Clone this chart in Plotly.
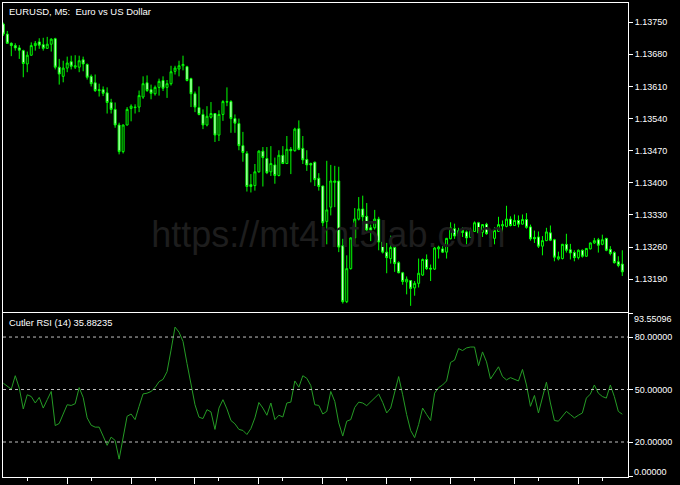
import plotly.graph_objects as go

# ---------------- data ----------------
bars = list(range(156))

opens = [1.13746,1.13724,1.13704,1.13699,1.13694,1.13688,1.13659,1.13678,1.13699,1.13707,
         1.13701,1.13693,1.13702,1.13714,1.13652,1.13632,1.13650,1.13664,1.13652,1.13652,
         1.13668,1.13658,1.13632,1.13618,1.13603,1.13603,1.13596,1.13575,1.13560,1.13526,
         1.13468,1.13526,1.13562,1.13565,1.13565,1.13587,1.13618,1.13603,1.13594,1.13608,
         1.13623,1.13608,1.13616,1.13643,1.13648,1.13655,1.13653,1.13627,1.13594,1.13564,
         1.13549,1.13526,1.13543,1.13551,1.13504,1.13549,1.13577,1.13577,1.13540,1.13529,
         1.13481,1.13464,1.13396,1.13394,1.13424,1.13469,1.13453,1.13424,1.13439,1.13416,
         1.13460,1.13442,1.13473,1.13470,1.13518,1.13475,1.13451,1.13442,1.13445,1.13410,
         1.13393,1.13316,1.13347,1.13401,1.13404,1.13263,1.13141,1.13213,1.13280,1.13321,
         1.13343,1.13327,1.13302,1.13302,1.13321,1.13271,1.13249,1.13235,1.13259,1.13226,
         1.13204,1.13184,1.13187,1.13171,1.13181,1.13199,1.13233,1.13214,1.13212,1.13256,
         1.13256,1.13249,1.13278,1.13300,1.13284,1.13296,1.13293,1.13281,1.13294,1.13313,
         1.13292,1.13310,1.13289,1.13279,1.13294,1.13306,1.13305,1.13321,1.13307,1.13318,
         1.13310,1.13320,1.13304,1.13281,1.13282,1.13262,1.13274,1.13291,1.13276,1.13234,
         1.13235,1.13266,1.13254,1.13248,1.13237,1.13253,1.13240,1.13256,1.13269,1.13276,
         1.13266,1.13279,1.13255,1.13248,1.13228,1.13223]

highs = [1.13749,1.13731,1.13706,1.13704,1.13700,1.13690,1.13686,1.13706,1.13709,1.13715,
         1.13716,1.13718,1.13715,1.13716,1.13670,1.13666,1.13675,1.13677,1.13678,1.13677,
         1.13675,1.13660,1.13636,1.13636,1.13616,1.13610,1.13608,1.13583,1.13575,1.13531,
         1.13527,1.13565,1.13571,1.13571,1.13601,1.13632,1.13634,1.13614,1.13612,1.13627,
         1.13632,1.13624,1.13655,1.13655,1.13666,1.13677,1.13655,1.13629,1.13599,1.13610,
         1.13560,1.13567,1.13576,1.13552,1.13558,1.13580,1.13608,1.13580,1.13549,1.13540,
         1.13511,1.13469,1.13419,1.13441,1.13471,1.13478,1.13478,1.13480,1.13455,1.13471,
         1.13480,1.13502,1.13478,1.13520,1.13536,1.13502,1.13471,1.13444,1.13446,1.13421,
         1.13394,1.13448,1.13439,1.13437,1.13435,1.13278,1.13242,1.13281,1.13345,1.13369,
         1.13372,1.13356,1.13309,1.13341,1.13326,1.13300,1.13269,1.13285,1.13261,1.13229,
         1.13206,1.13196,1.13188,1.13186,1.13235,1.13235,1.13244,1.13222,1.13260,1.13263,
         1.13262,1.13280,1.13314,1.13311,1.13302,1.13303,1.13296,1.13302,1.13316,1.13315,
         1.13310,1.13313,1.13298,1.13303,1.13326,1.13318,1.13350,1.13327,1.13331,1.13329,
         1.13331,1.13334,1.13309,1.13296,1.13294,1.13284,1.13302,1.13307,1.13278,1.13250,
         1.13267,1.13289,1.13267,1.13253,1.13255,1.13255,1.13258,1.13270,1.13280,1.13280,
         1.13287,1.13280,1.13262,1.13251,1.13240,1.13253]

lows = [1.13720,1.13703,1.13676,1.13688,1.13670,1.13630,1.13641,1.13677,1.13688,1.13692,
        1.13688,1.13692,1.13686,1.13647,1.13614,1.13619,1.13641,1.13647,1.13648,1.13641,
        1.13643,1.13625,1.13610,1.13598,1.13588,1.13589,1.13551,1.13551,1.13520,1.13462,
        1.13464,1.13525,1.13534,1.13551,1.13554,1.13583,1.13598,1.13582,1.13590,1.13590,
        1.13600,1.13585,1.13612,1.13636,1.13632,1.13645,1.13621,1.13565,1.13554,1.13547,
        1.13517,1.13523,1.13540,1.13489,1.13491,1.13535,1.13567,1.13509,1.13509,1.13471,
        1.13446,1.13381,1.13379,1.13383,1.13422,1.13392,1.13419,1.13415,1.13398,1.13414,
        1.13441,1.13441,1.13419,1.13468,1.13471,1.13441,1.13426,1.13401,1.13393,1.13383,
        1.13305,1.13266,1.13329,1.13347,1.13249,1.13137,1.13138,1.13211,1.13263,1.13318,
        1.13307,1.13292,1.13273,1.13298,1.13253,1.13246,1.13203,1.13224,1.13206,1.13203,
        1.13178,1.13157,1.13132,1.13154,1.13172,1.13197,1.13210,1.13186,1.13210,1.13235,
        1.13247,1.13235,1.13277,1.13278,1.13271,1.13282,1.13266,1.13280,1.13293,1.13289,
        1.13282,1.13287,1.13279,1.13266,1.13293,1.13291,1.13303,1.13305,1.13306,1.13303,
        1.13309,1.13300,1.13274,1.13269,1.13258,1.13242,1.13273,1.13273,1.13229,1.13231,
        1.13233,1.13248,1.13233,1.13229,1.13233,1.13237,1.13239,1.13255,1.13267,1.13248,
        1.13264,1.13251,1.13242,1.13224,1.13216,1.13197]

closes = [1.13724,1.13704,1.13699,1.13694,1.13689,1.13660,1.13678,1.13699,1.13704,1.13700,
          1.13693,1.13702,1.13713,1.13652,1.13637,1.13650,1.13661,1.13654,1.13655,1.13666,
          1.13659,1.13630,1.13616,1.13601,1.13601,1.13595,1.13575,1.13560,1.13526,1.13468,
          1.13526,1.13560,1.13567,1.13564,1.13590,1.13616,1.13601,1.13595,1.13608,1.13621,
          1.13606,1.13616,1.13642,1.13650,1.13655,1.13658,1.13623,1.13594,1.13565,1.13549,
          1.13526,1.13545,1.13551,1.13504,1.13549,1.13577,1.13576,1.13540,1.13530,1.13481,
          1.13466,1.13392,1.13392,1.13424,1.13469,1.13455,1.13422,1.13442,1.13416,1.13460,
          1.13442,1.13473,1.13470,1.13517,1.13473,1.13450,1.13439,1.13439,1.13407,1.13392,
          1.13313,1.13341,1.13404,1.13404,1.13260,1.13141,1.13213,1.13280,1.13321,1.13343,
          1.13326,1.13297,1.13297,1.13321,1.13271,1.13249,1.13237,1.13259,1.13224,1.13204,
          1.13185,1.13190,1.13170,1.13181,1.13203,1.13233,1.13213,1.13212,1.13258,1.13260,
          1.13249,1.13279,1.13302,1.13284,1.13296,1.13292,1.13280,1.13296,1.13313,1.13291,
          1.13309,1.13289,1.13280,1.13296,1.13309,1.13309,1.13321,1.13307,1.13318,1.13310,
          1.13320,1.13303,1.13278,1.13278,1.13262,1.13274,1.13293,1.13275,1.13238,1.13239,
          1.13266,1.13253,1.13247,1.13237,1.13253,1.13240,1.13257,1.13269,1.13274,1.13264,
          1.13276,1.13253,1.13246,1.13226,1.13220,1.13206]

rsi = [53.6,52.0,50.2,57.9,50.8,38.9,47.0,46.0,42.3,45.5,
       39.4,44.2,48.9,29.4,30.6,36.0,41.3,40.9,41.9,51.1,
       45.5,33.8,29.6,28.5,28.5,23.4,18.1,22.8,20.9,10.2,
       23.4,34.7,36.0,32.8,40.4,47.5,47.9,48.9,51.1,54.5,
       55.8,60.2,72.5,85.7,82.8,77.5,64.9,53.6,41.3,34.2,
       33.4,38.5,37.2,27.2,39.4,44.2,38.9,32.3,30.4,27.2,
       26.6,24.3,27.7,33.8,42.6,39.4,35.3,42.3,32.8,35.3,
       34.3,42.3,42.8,54.9,51.3,57.9,56.4,52.3,41.3,40.9,
       36.0,37.5,48.9,43.2,30.9,23.4,31.9,32.8,39.8,42.8,
       42.3,40.8,43.2,45.5,47.4,42.6,36.6,39.4,48.9,57.4,
       47.0,35.7,26.6,22.5,30.0,39.4,35.7,32.3,47.9,51.1,
       52.6,54.9,65.5,66.8,73.4,72.3,73.8,74.3,74.3,63.6,
       71.5,65.8,56.0,59.2,63.0,57.4,55.5,56.8,56.0,54.9,
       61.5,52.6,40.4,46.6,36.6,46.0,54.2,42.3,32.3,31.9,
       34.7,37.5,35.7,33.8,35.3,36.6,45.1,47.4,52.6,47.9,
       46.0,45.1,52.6,46.0,37.5,35.88]

price_ticks = [1.13190, 1.13260, 1.13330, 1.13400, 1.13470, 1.13540, 1.13610, 1.13680, 1.13750]
rsi_levels = [20, 50, 80]
rsi_ticks = [0, 20, 50, 80, 93.55096]
rsi_ticktext = ["", "20.00000", "50.00000", "80.00000", ""]
rsi_max_label = "93.55096"
rsi_min_label = "0.00000"
time_major = [16, 32, 48, 64, 80, 96, 112, 128, 144]
time_minor = [6, 22, 38, 54, 70, 86, 102, 118, 134, 150]

title_text = "EURUSD, M5:\u00a0 Euro vs US Dollar"
rsi_title = "Cutler RSI (14) 35.88235"
watermark = "https://mt4mt5lab.com"

# ---------------- figure ----------------
FONT = "Liberation Sans"
W, H = 680, 485
ML, MR, MT, MB = 2, 52, 2, 6
PW, PH = W - ML - MR, H - MT - MB


def px_x(px):
    return (px - ML) / PW


def px_y(py):
    return (H - MB - py) / PH


xr = [-0.075, 156.425]

fig = go.Figure()

fig.add_trace(go.Scatter(
    x=[81.4], y=[1.13279], mode="text", text=[watermark],
    textfont=dict(family=FONT, size=36, color="#1d1d1d"),
    hoverinfo="skip", showlegend=False, xaxis="x", yaxis="y"))

fig.add_trace(go.Candlestick(
    x=bars, open=opens, high=highs, low=lows, close=closes,
    increasing=dict(line=dict(color="#00ff00", width=1), fillcolor="#000000"),
    decreasing=dict(line=dict(color="#00ff00", width=1), fillcolor="#ffffff"),
    whiskerwidth=0, showlegend=False, xaxis="x", yaxis="y"))

fig.add_trace(go.Scatter(
    x=bars, y=rsi, mode="lines", line=dict(color="#259b25", width=1),
    showlegend=False, xaxis="x2", yaxis="y2", hoverinfo="skip"))

main_bottom = px_y(312.7)
rsi_top = px_y(314.3)

axis_common = dict(showline=True, linecolor="#ffffff", linewidth=1, mirror=True,
                   showgrid=False, zeroline=False)

fig.update_layout(
    width=W, height=H,
    margin=dict(l=ML, r=MR, t=MT, b=MB),
    paper_bgcolor="#000000", plot_bgcolor="#000000",
    showlegend=False,
    font=dict(family=FONT, color="#ffffff", size=9),
    xaxis=dict(domain=[0, 1], anchor="y", range=xr, showticklabels=False, ticks="",
               rangeslider=dict(visible=False), **axis_common),
    yaxis=dict(domain=[main_bottom, 1], anchor="x", side="right",
               range=[1.131191, 1.137918], tickmode="array", tickvals=price_ticks,
               tickformat=".5f", ticks="outside", ticklen=4, tickcolor="#ffffff",
               tickfont=dict(family=FONT, size=9, color="#ffffff"), **axis_common),
    xaxis2=dict(domain=[0, 1], anchor="y2", range=xr, showticklabels=False,
                tickmode="array", tickvals=time_major, ticks="outside", ticklen=6,
                tickcolor="#ffffff",
                minor=dict(tickmode="array", tickvals=time_minor, ticks="outside",
                           ticklen=3, tickcolor="#ffffff"),
                **axis_common),
    yaxis2=dict(domain=[0, rsi_top], anchor="x2", side="right", range=[0, 93.55096],
                tickmode="array", tickvals=rsi_ticks, ticktext=rsi_ticktext,
                ticks="outside", ticklen=4, tickcolor="#ffffff",
                tickfont=dict(family=FONT, size=9, color="#ffffff"), **axis_common),
)

for lv in rsi_levels:
    fig.add_shape(type="line", xref="x2 domain", yref="y2", x0=0, x1=1, y0=lv, y1=lv,
                  line=dict(color="#c0c0c0", width=1, dash="3px,3px"))

fig.add_annotation(text=title_text, xref="paper", yref="paper", x=px_x(6), y=px_y(3),
                   xanchor="left", yanchor="top", showarrow=False,
                   font=dict(family=FONT, size=9.5, color="#ffffff"))
fig.add_annotation(text=rsi_title, xref="paper", yref="paper", x=px_x(6), y=px_y(317),
                   xanchor="left", yanchor="top", showarrow=False,
                   font=dict(family=FONT, size=9.3, color="#ffffff"))
fig.add_annotation(text=rsi_max_label, xref="paper", yref="paper", x=px_x(632), y=px_y(319.5),
                   xanchor="left", yanchor="middle", showarrow=False,
                   font=dict(family=FONT, size=9, color="#ffffff"))
fig.add_annotation(text=rsi_min_label, xref="paper", yref="paper", x=px_x(632), y=px_y(473.5),
                   xanchor="left", yanchor="middle", showarrow=False,
                   font=dict(family=FONT, size=9, color="#ffffff"))

fig.write_html(
    "out.html",
    config={"displayModeBar": False},
    post_script="document.body.style.margin='0';document.body.style.padding='0';"
                "document.body.style.background='#000';",
)
